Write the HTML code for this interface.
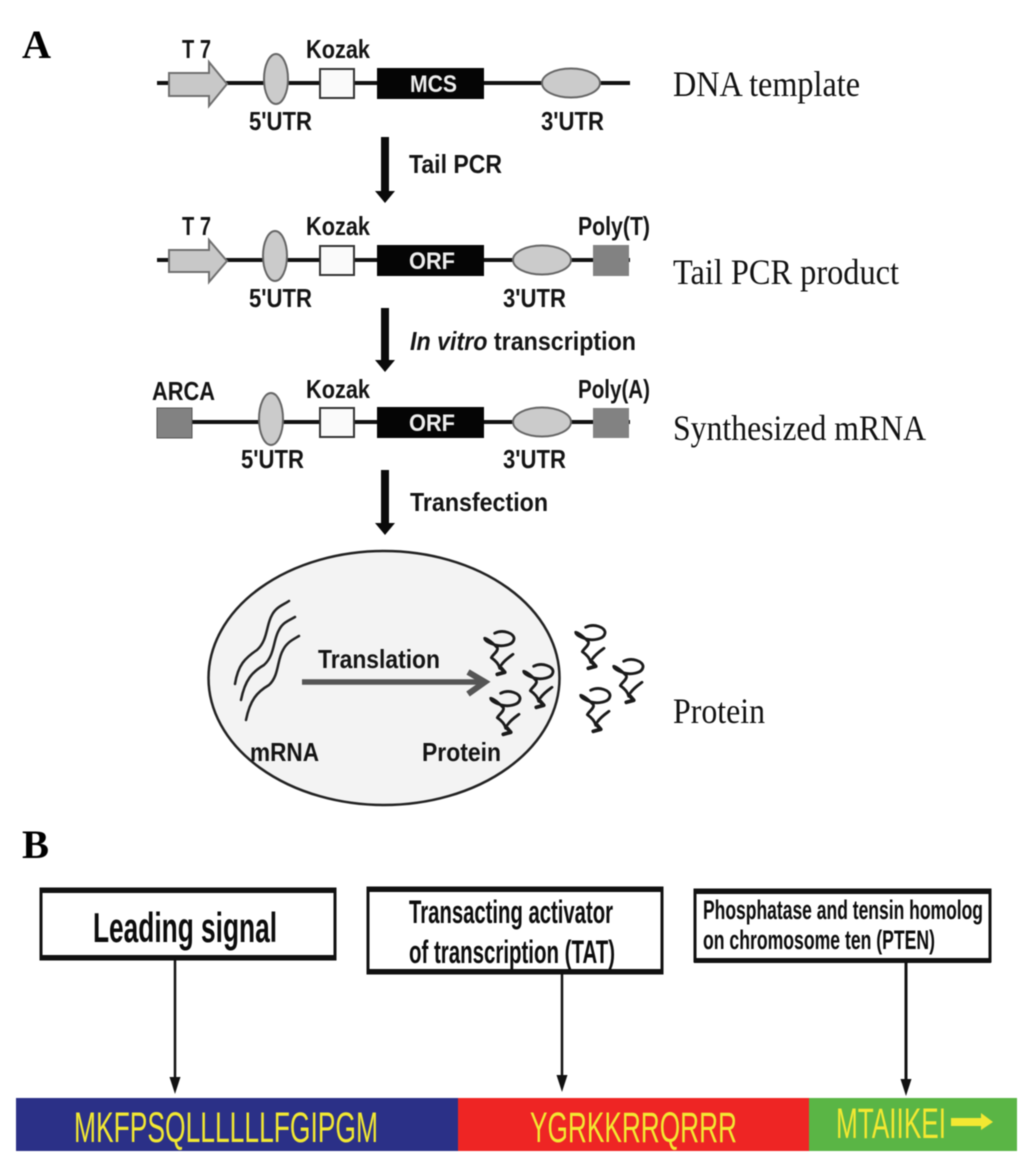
<!DOCTYPE html>
<html>
<head>
<meta charset="utf-8">
<style>
html,body{margin:0;padding:0;background:#fff;width:1033px;height:1162px;overflow:hidden}
svg{display:block;filter:blur(.55px)}
.l{font-family:"Liberation Sans",sans-serif;font-weight:700;font-size:26px;fill:#141414}
.s{font-family:"Liberation Serif",serif;font-size:36px;fill:#111}
.h{font-family:"Liberation Serif",serif;font-weight:700;font-size:40px;fill:#000}
.w{font-family:"Liberation Sans",sans-serif;font-weight:700;font-size:24px;fill:#eee}
.q{font-family:"Liberation Sans",sans-serif;font-size:43px;fill:#f2e832}
.b{font-family:"Liberation Sans",sans-serif;font-weight:700;fill:#0c0c0c}
</style>
</head>
<body>
<svg width="1033" height="1162" viewBox="0 0 1033 1162" xmlns="http://www.w3.org/2000/svg">
<defs>
<g id="sq" fill="none" stroke="#1a1a1a" stroke-linecap="round" stroke-linejoin="round">
<path stroke-width="2.800" d="M11.700 3.300C20 -1 31.700 3.300 31 9C30 15.700 18.300 16.700 12.300 15C6.700 13.300 1.700 11 1.700 8.300C5 9 10 13.300 14.300 17.700C15.700 21 10 24.300 8.300 27.700C11.700 30 15.700 33.300 16.700 38.300"/>
<path stroke-width="2.800" d="M18.300 35C21.700 30 26.700 26.700 30 24.300"/>
<path stroke-width="3.800" d="M14.300 44.300L21.700 42.300L18 38"/>
</g>
</defs>

<text class="h" x="22" y="58" textLength="29" lengthAdjust="spacingAndGlyphs">A</text>
<text class="h" x="22" y="858" textLength="27" lengthAdjust="spacingAndGlyphs">B</text>

<!-- Row 1 -->
<line x1="157" y1="83" x2="630" y2="83" stroke="#111" stroke-width="4"/>
<path d="M169 73H209V62L227 84L209 106V96H169Z" fill="#c8c8c8" stroke="#707070" stroke-width="2"/>
<ellipse cx="276" cy="79" rx="12" ry="25" fill="#cbcbcb" stroke="#666" stroke-width="2"/>
<rect x="320" y="69" width="34" height="29" fill="#fafafa" stroke="#333" stroke-width="2"/>
<rect x="377" y="68" width="107" height="31" fill="#050505"/>
<ellipse cx="571" cy="83" rx="29" ry="14.500" fill="#cbcbcb" stroke="#666" stroke-width="2"/>
<text class="l" x="182" y="58" textLength="29" lengthAdjust="spacingAndGlyphs">T 7</text>
<text class="l" x="306" y="58" textLength="64" lengthAdjust="spacingAndGlyphs">Kozak</text>
<text class="w" x="410" y="92" textLength="47" lengthAdjust="spacingAndGlyphs">MCS</text>
<text class="l" x="249" y="130" textLength="63" lengthAdjust="spacingAndGlyphs">5'UTR</text>
<text class="l" x="541" y="130" textLength="63" lengthAdjust="spacingAndGlyphs">3'UTR</text>
<text class="s" x="673" y="96" textLength="187" lengthAdjust="spacingAndGlyphs">DNA template</text>

<path d="M381 137H389V191H395L385 203L375 191H381Z" fill="#0a0a0a"/>
<text class="l" x="409" y="173" textLength="93" lengthAdjust="spacingAndGlyphs">Tail PCR</text>

<!-- Row 2 -->
<line x1="157" y1="260" x2="630" y2="260" stroke="#111" stroke-width="4"/>
<path d="M169 250H209V240L227 261L209 282V272H169Z" fill="#c8c8c8" stroke="#707070" stroke-width="2"/>
<ellipse cx="275" cy="256" rx="12" ry="25" fill="#cbcbcb" stroke="#666" stroke-width="2"/>
<rect x="320" y="246" width="34" height="29" fill="#fafafa" stroke="#333" stroke-width="2"/>
<rect x="377" y="245" width="107" height="31" fill="#050505"/>
<ellipse cx="542" cy="260" rx="29" ry="14.500" fill="#cbcbcb" stroke="#666" stroke-width="2"/>
<rect x="593" y="245" width="36" height="31" fill="#828282"/>
<text class="l" x="182" y="235" textLength="29" lengthAdjust="spacingAndGlyphs">T 7</text>
<text class="l" x="306" y="235" textLength="64" lengthAdjust="spacingAndGlyphs">Kozak</text>
<text class="l" x="578" y="235" textLength="72" lengthAdjust="spacingAndGlyphs">Poly(T)</text>
<text class="w" x="409" y="269" textLength="46" lengthAdjust="spacingAndGlyphs">ORF</text>
<text class="l" x="249" y="307" textLength="63" lengthAdjust="spacingAndGlyphs">5'UTR</text>
<text class="l" x="503" y="307" textLength="63" lengthAdjust="spacingAndGlyphs">3'UTR</text>
<text class="s" x="673" y="284" textLength="226" lengthAdjust="spacingAndGlyphs">Tail PCR product</text>

<path d="M381 308H389V360H395L385 372L375 360H381Z" fill="#0a0a0a"/>
<text class="l" x="410" y="350" textLength="226" lengthAdjust="spacingAndGlyphs"><tspan font-style="italic">In vitro</tspan> transcription</text>

<!-- Row 3 -->
<line x1="190" y1="422" x2="630" y2="422" stroke="#111" stroke-width="4"/>
<rect x="157" y="408" width="35" height="30" fill="#828282" stroke="#555"/>
<ellipse cx="271" cy="419" rx="12" ry="26" fill="#cbcbcb" stroke="#666" stroke-width="2"/>
<rect x="320" y="408" width="34" height="29" fill="#fafafa" stroke="#333" stroke-width="2"/>
<rect x="377" y="407" width="107" height="31" fill="#050505"/>
<ellipse cx="542" cy="422" rx="29" ry="14.500" fill="#cbcbcb" stroke="#666" stroke-width="2"/>
<rect x="593" y="408" width="36" height="30" fill="#828282"/>
<text class="l" x="152" y="400" textLength="63" lengthAdjust="spacingAndGlyphs">ARCA</text>
<text class="l" x="306" y="398" textLength="64" lengthAdjust="spacingAndGlyphs">Kozak</text>
<text class="l" x="578" y="398" textLength="72" lengthAdjust="spacingAndGlyphs">Poly(A)</text>
<text class="w" x="409" y="431" textLength="46" lengthAdjust="spacingAndGlyphs">ORF</text>
<text class="l" x="241" y="468" textLength="63" lengthAdjust="spacingAndGlyphs">5'UTR</text>
<text class="l" x="503" y="468" textLength="63" lengthAdjust="spacingAndGlyphs">3'UTR</text>
<text class="s" x="673" y="440" textLength="253" lengthAdjust="spacingAndGlyphs">Synthesized mRNA</text>

<path d="M381 470H389V523H395L385 535L375 523H381Z" fill="#0a0a0a"/>
<text class="l" x="410" y="511" textLength="138" lengthAdjust="spacingAndGlyphs">Transfection</text>

<!-- Cell -->
<ellipse cx="384" cy="678" rx="175.500" ry="127" fill="#f3f3f3" stroke="#222" stroke-width="2.500"/>
<g fill="none" stroke="#222" stroke-width="2.500" stroke-linecap="round">
<path d="M235 684C238 665 245 658 257 650C268 640 266 625 272 615C276 607 283 605 289 601"/>
<path d="M241 700C245 680 252 672 264 665C275 655 273 640 279 630C283 622 290 620 295 617"/>
<path d="M246 720C250 700 257 692 269 685C279 676 277 660 283 650C287 642 294 639 299 636"/>
</g>
<path d="M302 682H484" stroke="#555" stroke-width="5.500"/>
<path d="M468 672L485 682L468 694" fill="none" stroke="#555" stroke-width="6"/>
<text class="l" x="318" y="668" textLength="122" lengthAdjust="spacingAndGlyphs">Translation</text>
<text class="l" x="250" y="761" textLength="69" lengthAdjust="spacingAndGlyphs">mRNA</text>
<text class="l" x="422" y="761" textLength="79" lengthAdjust="spacingAndGlyphs">Protein</text>
<use href="#sq" x="483" y="630"/>
<use href="#sq" x="522" y="663"/>
<use href="#sq" x="489" y="690"/>
<use href="#sq" x="574" y="624"/>
<use href="#sq" x="612" y="658"/>
<use href="#sq" x="579" y="687"/>
<text class="s" x="673" y="723" textLength="92" lengthAdjust="spacingAndGlyphs">Protein</text>

<!-- Panel B boxes -->
<rect x="41" y="889" width="294" height="70" fill="#fff" stroke="#111" stroke-width="3"/>
<rect x="40" y="888" width="296" height="5" fill="#111"/>
<rect x="40" y="955" width="296" height="5" fill="#111"/>
<rect x="368" y="888" width="294" height="85" fill="#fff" stroke="#111" stroke-width="3"/>
<rect x="367" y="887" width="296" height="5" fill="#111"/>
<rect x="367" y="969" width="296" height="5" fill="#111"/>
<rect x="695" y="890" width="295" height="71" fill="#fff" stroke="#111" stroke-width="3"/>
<rect x="694" y="889" width="297" height="5" fill="#111"/>
<rect x="694" y="958" width="297" height="5" fill="#111"/>

<text class="b" x="93" y="942" font-size="42" textLength="184" lengthAdjust="spacingAndGlyphs">Leading signal</text>
<text class="b" x="409" y="923" font-size="32" textLength="204" lengthAdjust="spacingAndGlyphs">Transacting activator</text>
<text class="b" x="409" y="963" font-size="32" textLength="206" lengthAdjust="spacingAndGlyphs">of transcription (TAT)</text>
<text class="b" x="703" y="919" font-size="27" textLength="280" lengthAdjust="spacingAndGlyphs">Phosphatase and tensin homolog</text>
<text class="b" x="703" y="949" font-size="27" textLength="232" lengthAdjust="spacingAndGlyphs">on chromosome ten (PTEN)</text>

<line x1="175" y1="960" x2="175" y2="1082" stroke="#111" stroke-width="2.500"/>
<path d="M169.500 1077H180.500L175 1094Z" fill="#111"/>
<line x1="562" y1="974" x2="562" y2="1080" stroke="#111" stroke-width="2.500"/>
<path d="M556.500 1075H567.500L562 1092Z" fill="#111"/>
<line x1="906" y1="962" x2="906" y2="1084" stroke="#111" stroke-width="3"/>
<path d="M900.500 1079H911.500L906 1096Z" fill="#111"/>

<!-- Bar -->
<rect x="16" y="1098" width="442" height="53" fill="#2b3087"/>
<rect x="458" y="1098" width="351" height="53" fill="#ee2524"/>
<rect x="809" y="1098" width="208" height="53" fill="#5ab545"/>
<text class="q" x="74" y="1142" textLength="304" lengthAdjust="spacingAndGlyphs">MKFPSQLLLLLLFGIPGM</text>
<text class="q" x="530" y="1142" textLength="207" lengthAdjust="spacingAndGlyphs">YGRKKRRQRRR</text>
<text class="q" x="836" y="1138" textLength="110" lengthAdjust="spacingAndGlyphs">MTAIIKEI</text>
<path d="M951 1118H981V1113L993 1122L981 1130V1126H951Z" fill="#f2e832"/>
</svg>
</body>
</html>
